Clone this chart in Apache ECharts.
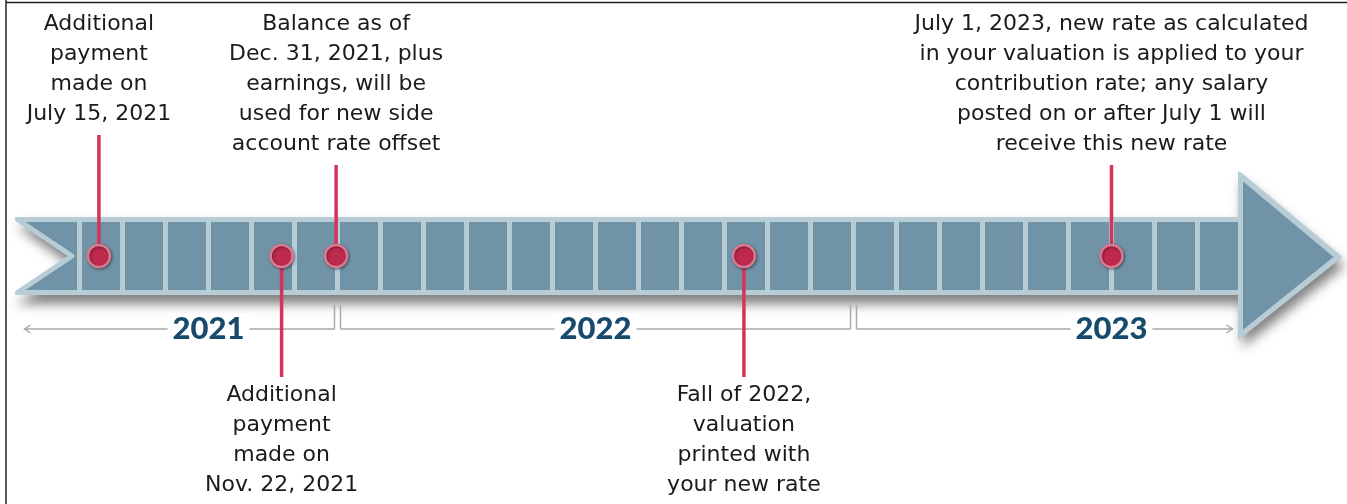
<!DOCTYPE html>
<html>
<head>
<meta charset="utf-8">
<title>Side account timeline</title>
<script src="https://cdn.jsdelivr.net/npm/echarts@6/dist/echarts.min.js"></script>
<style>
  html, body { margin: 0; padding: 0; background: #fff; }
  #chart { width: 1347px; height: 504px; }
</style>
</head>
<body>
<div id="chart"></div>
<script>
// months counted from the start of July 2021 (one cell per month)
const startYear = 2021;
const startMonth = 7;
const monthCount = 27; // Jul 2021 .. Sep 2023

const years = ['2021', '2022', '2023'];

const eventDates = ['2021-07-15', '2021-11-22', '2021-12-31', '2022-10-15', '2023-07-01'];
const eventSides = ['top', 'bottom', 'top', 'bottom', 'top'];
const eventTexts = [
  'Additional\npayment\nmade on\nJuly 15, 2021',
  'Additional\npayment\nmade on\nNov. 22, 2021',
  'Balance as of\nDec. 31, 2021, plus\nearnings, will be\nused for new side\naccount rate offset',
  'Fall of 2022,\nvaluation\nprinted with\nyour new rate',
  'July 1, 2023, new rate as calculated\nin your valuation is applied to your\ncontribution rate; any salary\nposted on or after July 1 will\nreceive this new rate'
];

const bodyFill = '#7093a7';
const bodyEdge = '#b8ccd6';
const pinkLine = '#d4335a';
const textFont = '22px "DejaVu Sans"';

function toMonth(dateStr) {
  const [y, m, d] = dateStr.split('-').map(Number);
  const days = new Date(y, m, 0).getDate();
  return (y - startYear) * 12 + (m - startMonth) + (d - 1) / days;
}

const monthData = [];
for (let i = 0; i < monthCount; i++) monthData.push([i, 0]);

const yearData = years.map(function (y) {
  const s = (Number(y) - startYear) * 12 + (1 - startMonth);
  return [s, 0, s + 12];
});

const eventData = eventDates.map(function (d, i) {
  return [toMonth(d), 0, i];
});

const chart = echarts.init(document.getElementById('chart'));

function arrowShape(params, api) {
  const a = api.coord([0, 0]);
  const b = api.coord([monthCount, 0]);
  const cy = a[1];
  return {
    type: 'group',
    children: [
      {
        type: 'polygon',
        shape: { points: [[a[0] - 65, cy - 39], [b[0], cy - 39], [b[0], cy - 84], [b[0] + 102, cy + 1],
          [b[0], cy + 82], [b[0], cy + 39], [a[0] - 65, cy + 39], [a[0] - 11, cy]] },
        style: { fill: bodyEdge, shadowBlur: 12, shadowOffsetX: 2, shadowOffsetY: 9, shadowColor: 'rgba(0,0,0,0.5)' }
      },
      {
        type: 'polygon',
        shape: { points: [[a[0] - 62, cy - 36.5], [a[0], cy - 36.5], [a[0], cy + 36.5], [a[0] - 62, cy + 36.5], [a[0] - 7.5, cy]] },
        style: { fill: bodyFill, stroke: bodyEdge, lineWidth: 5, lineJoin: 'round' }
      }
    ]
  };
}

function arrowHead(params, api) {
  const b = api.coord([monthCount, 0]);
  const cy = b[1];
  return {
    type: 'polygon',
    shape: { points: [[b[0], cy - 80], [b[0] + 97, cy + 1], [b[0], cy + 79]] },
    style: { fill: bodyFill, stroke: bodyEdge, lineWidth: 5 }
  };
}

function monthCell(params, api) {
  const p = api.coord([api.value(0), 0]);
  const q = api.coord([api.value(0) + 1, 0]);
  return {
    type: 'rect',
    shape: { x: p[0], y: p[1] - 36.5, width: q[0] - p[0], height: 73 },
    style: { fill: bodyFill, stroke: bodyEdge, lineWidth: 5 }
  };
}

function yearBracket(params, api) {
  const s = api.value(0);
  const e = api.value(2);
  const c0 = api.coord([0, 0]);
  const lineY = c0[1] + 73;
  const xs = s < 0 ? c0[0] - 55 : api.coord([s, 0])[0] + 3;
  const xe = e > monthCount ? api.coord([monthCount, 0])[0] - 8 : api.coord([e, 0])[0] - 3;
  const mid = api.coord([(Math.max(s, 0) + e) / 2, 0])[0];
  const ls = { stroke: '#a8a8a8', lineWidth: 1.5, fill: null };
  const kids = [{ type: 'line', shape: { x1: xs, y1: lineY, x2: xe, y2: lineY }, style: ls }];
  if (s < 0) {
    kids.push({ type: 'polyline', shape: { points: [[xs + 6, lineY - 4], [xs, lineY], [xs + 6, lineY + 4]] }, style: ls });
  } else {
    kids.push({ type: 'line', shape: { x1: xs, y1: lineY, x2: xs, y2: lineY - 24 }, style: ls });
  }
  if (e > monthCount) {
    kids.push({ type: 'polyline', shape: { points: [[xe - 6, lineY - 4], [xe, lineY], [xe - 6, lineY + 4]] }, style: ls });
  } else {
    kids.push({ type: 'line', shape: { x1: xe, y1: lineY, x2: xe, y2: lineY - 24 }, style: ls });
  }
  kids.push({
    type: 'text',
    style: {
      text: years[params.dataIndex], x: mid, y: lineY, align: 'center', verticalAlign: 'middle',
      font: '900 31px Lato', fill: '#174a6b', backgroundColor: '#fff', padding: [0, 5]
    }
  });
  return { type: 'group', children: kids };
}

function eventNote(params, api) {
  const i = api.value(2);
  const p = api.coord([api.value(0), 0]);
  const text = eventTexts[i];
  const lines = text.split('\n').length;
  let stemEnd, textY;
  if (eventSides[i] === 'top') {
    textY = 9;
    stemEnd = textY + lines * 30 + 6;
  } else {
    stemEnd = p[1] + 121;
    textY = stemEnd + 3;
  }
  return {
    type: 'group',
    children: [
      { type: 'line', shape: { x1: p[0], y1: p[1], x2: p[0], y2: stemEnd }, style: { stroke: pinkLine, lineWidth: 3.5 } },
      {
        type: 'text',
        style: { text: text, x: p[0], y: textY, align: 'center', verticalAlign: 'top', font: textFont, lineHeight: 30, fill: '#1b1b1b' }
      }
    ]
  };
}

chart.setOption({
  animation: false,
  backgroundColor: '#fff',
  grid: { left: 79.5, width: monthCount * 43, top: 216, height: 80 },
  xAxis: { type: 'value', min: 0, max: monthCount, show: false },
  yAxis: { type: 'value', min: -1, max: 1, show: false },
  graphic: [
    { type: 'line', shape: { x1: 6, y1: 0, x2: 6, y2: 504 }, style: { stroke: '#222', lineWidth: 1.5 } },
    { type: 'line', shape: { x1: 6, y1: 2.5, x2: 1347, y2: 2.5 }, style: { stroke: '#222', lineWidth: 1.5 } }
  ],
  series: [
    { type: 'custom', name: 'arrow', z: 1, data: [[0, 0]], renderItem: arrowShape, clip: false, silent: true },
    { type: 'custom', name: 'months', z: 2, data: monthData, renderItem: monthCell, clip: false, silent: true },
    { type: 'custom', name: 'head', z: 2, data: [[0, 0]], renderItem: arrowHead, clip: false, silent: true },
    { type: 'custom', name: 'years', z: 2, data: yearData, renderItem: yearBracket, clip: false, silent: true },
    { type: 'custom', name: 'notes', z: 3, data: eventData, renderItem: eventNote, clip: false, silent: true },
    {
      type: 'scatter', name: 'events', z: 4, data: eventData, symbolSize: 22,
      itemStyle: {
        color: '#be2a4e', borderColor: '#d97a90', borderWidth: 2.5, opacity: 1,
        shadowBlur: 3, shadowOffsetX: 1, shadowOffsetY: 1, shadowColor: 'rgba(0,0,0,0.4)'
      },
      silent: true
    }
  ]
});
</script>
</body>
</html>
